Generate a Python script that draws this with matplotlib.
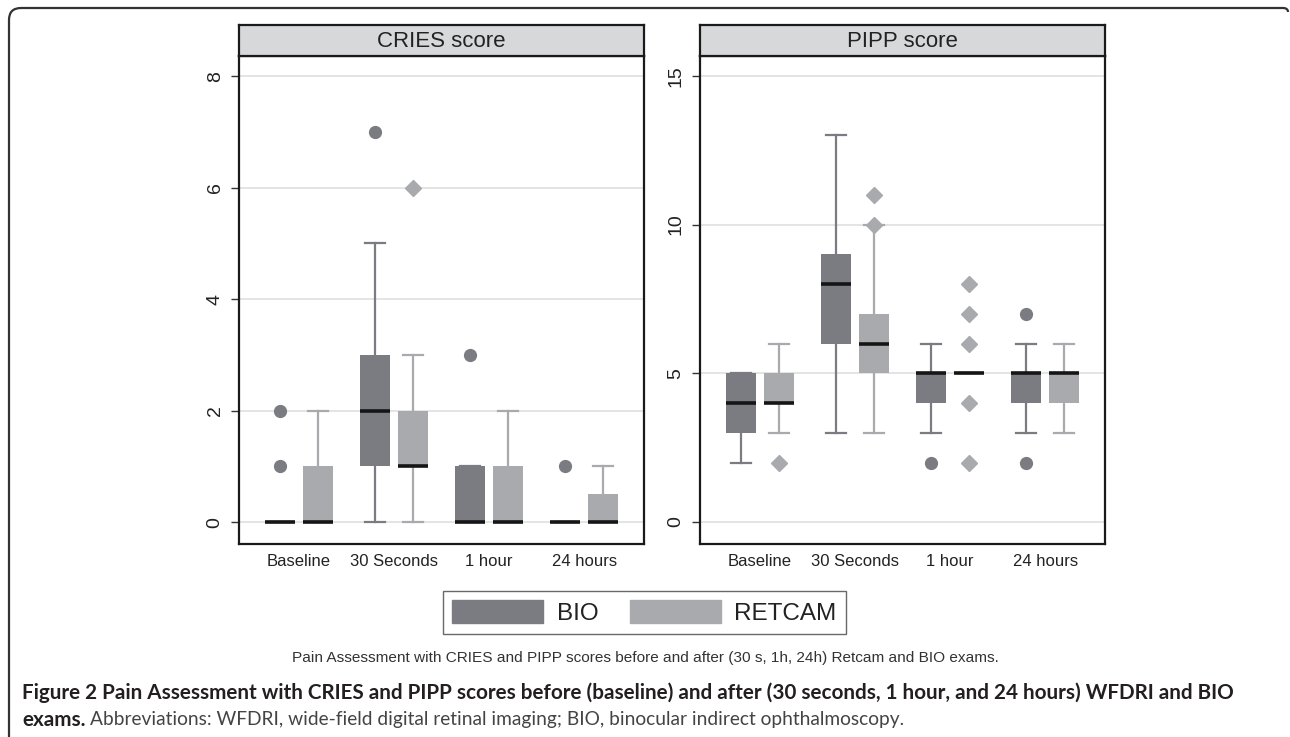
import matplotlib
matplotlib.use("Agg")
import matplotlib.pyplot as plt
from matplotlib.patches import Patch, PathPatch
from matplotlib.path import Path

# groups on the x axis
groups = ['Baseline', '30 Seconds', '1 hour', '24 hours']

# CRIES score, BIO
cries_bio_q1 = [0, 1, 0, 0]
cries_bio_med = [0, 2, 0, 0]
cries_bio_q3 = [0, 3, 1, 0]
cries_bio_lo = [0, 0, 0, 0]
cries_bio_hi = [0, 5, 1, 0]
cries_bio_out = [[1, 2], [7], [3], [1]]

# CRIES score, RETCAM
cries_ret_q1 = [0, 1, 0, 0]
cries_ret_med = [0, 1, 0, 0]
cries_ret_q3 = [1, 2, 1, 0.5]
cries_ret_lo = [0, 0, 0, 0]
cries_ret_hi = [2, 3, 2, 1]
cries_ret_out = [[], [6], [], []]

# PIPP score, BIO
pipp_bio_q1 = [3, 6, 4, 4]
pipp_bio_med = [4, 8, 5, 5]
pipp_bio_q3 = [5, 9, 5, 5]
pipp_bio_lo = [2, 3, 3, 3]
pipp_bio_hi = [5, 13, 6, 6]
pipp_bio_out = [[], [], [2], [2, 7]]

# PIPP score, RETCAM
pipp_ret_q1 = [4, 5, 5, 4]
pipp_ret_med = [4, 6, 5, 5]
pipp_ret_q3 = [5, 7, 5, 5]
pipp_ret_lo = [3, 3, 5, 3]
pipp_ret_hi = [6, 10, 5, 6]
pipp_ret_out = [[2], [10, 11], [2, 4, 6, 7, 8], []]

series_names = ['BIO', 'RETCAM']
bio_color = '#7b7c81'
ret_color = '#a9aaae'

plt.rcParams['font.family'] = ['Liberation Sans', 'DejaVu Sans']

W, H = 1290, 737
fig = plt.figure(figsize=(W / 100, H / 100), dpi=100)


def make_stats(q1, med, q3, lo, hi, out):
    stats = []
    for i in range(len(q1)):
        stats.append({'q1': q1[i], 'med': med[i], 'q3': q3[i],
                      'whislo': lo[i], 'whishi': hi[i], 'fliers': out[i]})
    return stats


def draw_boxes(ax, stats, pos, color, marker, ms):
    ax.bxp(stats, positions=pos, widths=0.31, capwidths=0.21,
           patch_artist=True, showfliers=True,
           boxprops=dict(facecolor=color, edgecolor=color, linewidth=0, zorder=2),
           whiskerprops=dict(color=color, linewidth=1.6, zorder=2),
           capprops=dict(color=color, linewidth=1.6, zorder=2),
           medianprops=dict(color='#151515', linewidth=2.6, zorder=4, solid_capstyle='butt'),
           flierprops=dict(marker=marker, markerfacecolor=color, markeredgecolor=color,
                           markersize=ms, linestyle='none', zorder=3))


def panel(left_px, title, ticks, ylim, bio, ret):
    ax = fig.add_axes([left_px / W, 1 - 544 / H, 405 / W, 488 / H])
    x = list(range(len(groups)))
    draw_boxes(ax, make_stats(*bio), [i - 0.2 for i in x], bio_color, 'o', 8.5)
    draw_boxes(ax, make_stats(*ret), [i + 0.2 for i in x], ret_color, 'D', 8)
    ax.set_xlim(-0.63, 3.63)
    ax.set_ylim(*ylim)
    ax.set_yticks(ticks)
    ax.set_yticklabels([str(t) for t in ticks], rotation=90, va='center', fontsize=14, color='#222222')
    ax.set_xticks(x)
    ax.set_xticklabels(groups, fontsize=12, color='#222222')
    ax.tick_params(axis='x', length=0, pad=7)
    ax.tick_params(axis='y', length=6, width=1, color='#333333', pad=5)
    ax.grid(axis='y', color='#e2e2e2', linewidth=1.3)
    ax.set_axisbelow(True)
    for s in ax.spines.values():
        s.set_linewidth(1.6)
        s.set_color('#1a1a1a')

    # strip header
    hdr = fig.add_axes([left_px / W, 1 - 56 / H, 405 / W, 31 / H])
    hdr.set_facecolor('#d7d8da')
    hdr.set_xticks([])
    hdr.set_yticks([])
    for s in hdr.spines.values():
        s.set_linewidth(1.6)
        s.set_color('#1a1a1a')
    hdr.text(0.5, 0.47, title, ha='center', va='center', fontsize=16, color='#222222',
             transform=hdr.transAxes)
    return ax


panel(239, 'CRIES score', [0, 2, 4, 6, 8], (-0.39, 8.36),
      (cries_bio_q1, cries_bio_med, cries_bio_q3, cries_bio_lo, cries_bio_hi, cries_bio_out),
      (cries_ret_q1, cries_ret_med, cries_ret_q3, cries_ret_lo, cries_ret_hi, cries_ret_out))
panel(700, 'PIPP score', [0, 5, 10, 15], (-0.74, 15.67),
      (pipp_bio_q1, pipp_bio_med, pipp_bio_q3, pipp_bio_lo, pipp_bio_hi, pipp_bio_out),
      (pipp_ret_q1, pipp_ret_med, pipp_ret_q3, pipp_ret_lo, pipp_ret_hi, pipp_ret_out))

# legend
handles = [Patch(facecolor=bio_color, edgecolor=bio_color),
           Patch(facecolor=ret_color, edgecolor=ret_color)]
leg = fig.legend(handles, series_names, loc='center', bbox_to_anchor=(644.5 / W, 1 - 612.5 / H),
                 ncol=2, fontsize=17.5, frameon=True, fancybox=False, handlelength=3.75,
                 handleheight=1.1, handletextpad=0.55, columnspacing=1.3, borderpad=0.37,
                 borderaxespad=0)
leg.get_frame().set_edgecolor('#444444')
leg.get_frame().set_linewidth(1.0)
for t in leg.get_texts():
    t.set_color('#222222')

# captions
fig.text(645 / W, 1 - 658 / H,
         'Pain Assessment with CRIES and PIPP scores before and after (30 s, 1h, 24h) Retcam and BIO exams.',
         ha='center', va='center', fontsize=11.1, color='#333333')
fig.text(22 / W, 1 - 693 / H,
         'Figure 2 Pain Assessment with CRIES and PIPP scores before (baseline) and after '
         '(30 seconds, 1 hour, and 24 hours) WFDRI and BIO',
         ha='left', va='center', fontsize=14.9, fontweight='bold', color='#231f20',
         family=['Lato', 'DejaVu Sans'])
t1 = fig.text(22 / W, 1 - 720 / H, 'exams.', ha='left', va='center', fontsize=14.9,
              fontweight='bold', color='#231f20', family=['Lato', 'DejaVu Sans'])
fig.canvas.draw()
bb = t1.get_window_extent()
fig.text((bb.x1 + 5) / W, 1 - 720 / H,
         'Abbreviations: WFDRI, wide-field digital retinal imaging; BIO, binocular indirect ophthalmoscopy.',
         ha='left', va='center', fontsize=13.8, color='#444444', family=['Lato', 'DejaVu Sans'])

# frame around the figure (left and top edges, rounded corner)
x0, y0, r = 9 / W, 1 - 8 / H, 12
verts = [(x0, 0.0), (x0, y0 - r / H), (x0, y0), (x0 + r / W, y0), (1283 / W, y0),
         (1288 / W, y0), (1288 / W, y0 - 4 / H)]
codes = [Path.MOVETO, Path.LINETO, Path.CURVE3, Path.CURVE3, Path.LINETO,
         Path.CURVE3, Path.CURVE3]
fig.add_artist(PathPatch(Path(verts, codes), facecolor='none', edgecolor='#333333',
                         linewidth=1.6, transform=fig.transFigure))

fig.savefig('out.png', dpi=100)
